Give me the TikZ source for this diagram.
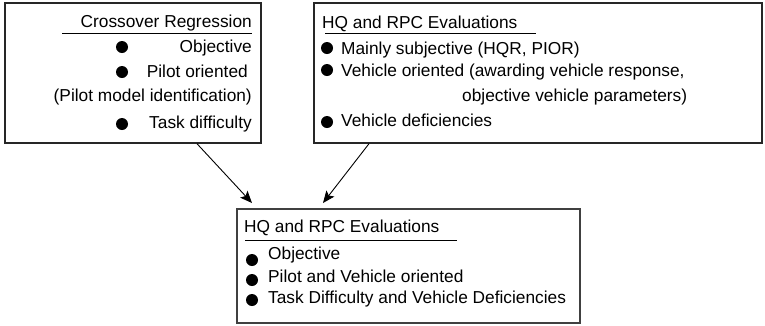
\documentclass[tikz,border=0pt]{standalone}
\usepackage{fontspec}
\setmainfont{Liberation Sans}
\usetikzlibrary{arrows.meta}
\begin{document}
\begin{tikzpicture}[x=1pt,y=-1pt,
  box/.style={draw=black!85, line width=1.4pt, rectangle, inner sep=0pt},
  txt/.style={inner sep=0pt, font=\fontsize{17.3}{20}\selectfont},
  rule/.style={line width=0.9pt},
  dot/.style={fill=black, circle, inner sep=0pt, minimum size=12pt},
  arr/.style={line width=0.9pt, -{Stealth[length=12pt,width=10pt,inset=2.5pt]}}]
\useasboundingbox (0,0) rectangle (765,325);
% boxes
\node[box, minimum width=256pt, minimum height=140pt] (b1) at (133,73) {};
\node[box, minimum width=448pt, minimum height=140pt] (b2) at (538,73) {};
\node[box, line width=1.8pt, draw=black!75, minimum width=343pt, minimum height=114pt] (b3) at (408.5,266) {};
% box 1
\node[txt, anchor=base east] (t1) at (252,27) {Crossover Regression};
\coordinate (u1a) at (62,33); \coordinate (u1b) at (252,33);
\draw[rule] (u1a) -- (u1b);
\node[dot] (d11) at (122,47) {};
\node[dot] (d12) at (122,72) {};
\node[dot] (d13) at (122,124) {};
\node[txt, anchor=base east] (t11) at (252,52) {Objective};
\node[txt, anchor=base east] (t12) at (248,77) {Pilot oriented};
\node[txt, anchor=base east] (t13) at (252,101) {(Pilot model identification)};
\node[txt, anchor=base east] (t14) at (252,128) {Task difficulty};
% box 2
\node[txt, anchor=base west] (t2) at (322,28) {HQ and RPC Evaluations};
\coordinate (u2a) at (325,33); \coordinate (u2b) at (536,33);
\draw[rule] (u2a) -- (u2b);
\node[dot] (d21) at (327,48) {};
\node[dot] (d22) at (327,70) {};
\node[dot] (d23) at (327,122) {};
\node[txt, anchor=base west] (t21) at (341,54) {Mainly subjective (HQR, PIOR)};
\node[txt, anchor=base west] (t22) at (341,76) {Vehicle oriented (awarding vehicle response,};
\node[txt, anchor=base west] (t23) at (462,101) {objective vehicle parameters)};
\node[txt, anchor=base west] (t24) at (341,126) {Vehicle deficiencies};
% box 3
\node[txt, anchor=base west] (t3) at (244,232) {HQ and RPC Evaluations};
\coordinate (u3a) at (245,240); \coordinate (u3b) at (457,240);
\draw[rule] (u3a) -- (u3b);
\node[dot] (d31) at (252,260) {};
\node[dot] (d32) at (252,280) {};
\node[dot] (d33) at (252,300) {};
\node[txt, anchor=base west] (t31) at (268,259) {Objective};
\node[txt, anchor=base west] (t32) at (268,282) {Pilot and Vehicle oriented};
\node[txt, anchor=base west] (t33) at (268,303) {Task Difficulty and Vehicle Deficiencies};
% arrows
\coordinate (a1s) at (197,143.7); \coordinate (a1e) at (252,203);
\coordinate (a2s) at (369,143.7); \coordinate (a2e) at (323,203);
\draw[arr] (a1s) -- (a1e);
\draw[arr] (a2s) -- (a2e);
\end{tikzpicture}
\end{document}
